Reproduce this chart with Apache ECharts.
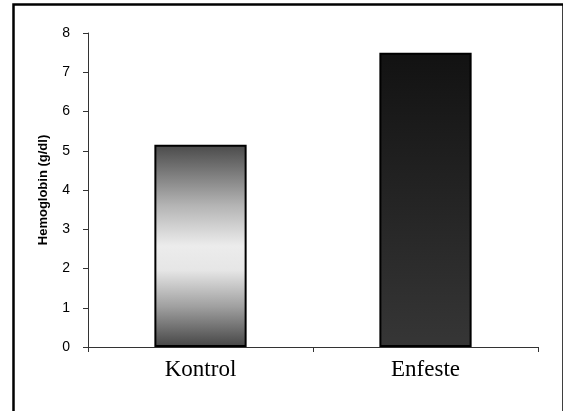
<!DOCTYPE html>
<html>
<head>
<meta charset="utf-8">
<script src="https://cdn.jsdelivr.net/npm/echarts@6/dist/echarts.min.js"></script>
<style>
  html, body { margin: 0; padding: 0; background: #fff; }
  #chart { width: 563px; height: 411px; }
</style>
</head>
<body>
<div id="chart"></div>
<script>
// Hemoglobin levels per group
const categories = ['Kontrol', 'Enfeste'];
const hemoglobin = [5.15, 7.5];
const yTicks = [0, 1, 2, 3, 4, 5, 6, 7, 8];

// Per-bar vertical gradients
const fills = [
  new echarts.graphic.LinearGradient(0, 0, 0, 1, [
    { offset: 0, color: '#4a4a4a' },
    { offset: 0.3, color: '#b4b4b4' },
    { offset: 0.5, color: '#ececec' },
    { offset: 0.62, color: '#e6e6e6' },
    { offset: 0.8, color: '#a0a0a0' },
    { offset: 1, color: '#454545' }
  ]),
  new echarts.graphic.LinearGradient(0, 0, 0, 1, [
    { offset: 0, color: '#121212' },
    { offset: 1, color: '#363636' }
  ])
];

const chart = echarts.init(document.getElementById('chart'), null, { renderer: 'canvas' });
chart.setOption({
  animation: false,
  backgroundColor: '#fff',
  graphic: [{
    type: 'rect',
    left: 11,
    top: 2,
    shape: { width: 550, height: 430 },
    style: { fill: 'none', stroke: '#000', lineWidth: 2.5 },
    silent: true,
    z: 100
  }],
  grid: { left: 88, right: 25, top: 33, bottom: 64 },
  xAxis: {
    type: 'category',
    data: categories,
    axisLine: { lineStyle: { color: '#333', width: 1 } },
    axisTick: { show: true, alignWithLabel: false, length: 5, lineStyle: { color: '#333' } },
    axisLabel: { fontFamily: 'Liberation Serif', fontSize: 23, color: '#000', margin: 11 }
  },
  yAxis: {
    type: 'value',
    min: yTicks[0],
    max: yTicks[yTicks.length - 1],
    interval: 1,
    name: 'Hemoglobin (g/dl)',
    nameLocation: 'middle',
    nameGap: 38,
    nameTextStyle: { fontFamily: 'Liberation Sans', fontSize: 13, fontWeight: 'bold', color: '#000' },
    axisLine: { show: true, lineStyle: { color: '#333', width: 1 } },
    axisTick: { show: true, length: 5, lineStyle: { color: '#333' } },
    splitLine: { show: false },
    axisLabel: { fontFamily: 'Liberation Sans', fontSize: 14, color: '#000', margin: 18 }
  },
  series: [{
    type: 'bar',
    barWidth: '41%',
    data: hemoglobin.map((v, i) => ({
      value: v,
      itemStyle: { color: fills[i], borderColor: '#000', borderWidth: 2 }
    }))
  }]
});
</script>
</body>
</html>
